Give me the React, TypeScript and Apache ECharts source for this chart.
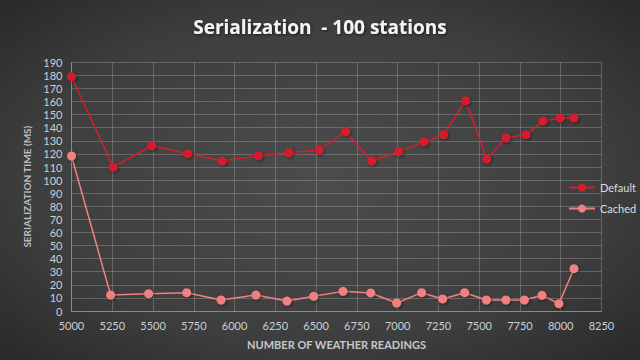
import React, { useEffect, useRef } from "react";
import * as echarts from "echarts";

const titleText = "Serialization  - 100 stations";
const xAxisName = "NUMBER OF WEATHER READINGS";
const yAxisName = "SERIALIZATION TIME (MS)";
const seriesNames = ["Default", "Cached"];

const defaultX = [5000, 5256, 5492, 5713, 5925, 6145, 6332, 6518, 6681, 6841, 7006, 7162, 7282, 7417, 7546, 7664, 7787, 7891, 7996, 8081];
const defaultY = [179.0, 110.0, 126.3, 120.2, 114.6, 118.6, 120.9, 123.0, 137.0, 114.6, 121.7, 129.3, 134.7, 160.7, 116.1, 132.2, 134.7, 145.1, 147.4, 147.6];

const cachedX = [5000, 5240, 5473, 5706, 5917, 6131, 6321, 6485, 6665, 6835, 6994, 7147, 7276, 7411, 7544, 7664, 7777, 7885, 7989, 8081];
const cachedY = [118.4, 12.2, 13.2, 14.0, 8.4, 12.2, 7.6, 11.2, 15.0, 13.8, 6.1, 14.0, 9.2, 14.0, 8.4, 8.4, 8.4, 12.0, 5.6, 32.3];

const colors = ["#d41f2d", "#f28080"];

export default function App() {
  const ref = useRef<HTMLDivElement>(null);
  useEffect(() => {
    document.body.style.margin = "0";
    const chart = echarts.init(ref.current!, null, { renderer: "svg" });
    const font = "Lato, 'Open Sans', sans-serif";
    const mk = (xs: number[], ys: number[]) => xs.map((x, i) => [x, ys[i]]);
    chart.setOption({
      animation: false,
      backgroundColor: new echarts.graphic.RadialGradient(0.5, 0.5, 0.75, [
        { offset: 0, color: "#4c4c4c" },
        { offset: 0.6, color: "#3e3e3e" },
        { offset: 1, color: "#252525" },
      ]),
      title: {
        text: titleText,
        left: "center",
        top: 12,
        textStyle: {
          color: "#f4f4f4",
          fontFamily: "'Open Sans', sans-serif",
          fontWeight: "bold",
          fontSize: 19,
          textShadowColor: "rgba(0,0,0,0.6)",
          textShadowBlur: 3,
          textShadowOffsetX: 1,
          textShadowOffsetY: 1,
        },
      },
      legend: {
        orient: "vertical",
        left: 563,
        top: 177,
        itemGap: 10,
        itemWidth: 26,
        itemHeight: 10,
        textStyle: { color: "#d8dde4", fontFamily: font, fontSize: 11 },
        data: seriesNames,
      },
      grid: { left: 71.5, right: 38.5, top: 62.3, bottom: 49, containLabel: false },
      xAxis: {
        type: "value",
        min: 5000,
        max: 8250,
        interval: 250,
        name: xAxisName,
        nameLocation: "middle",
        nameGap: 28,
        nameTextStyle: { color: "#c4c8cc", fontFamily: font, fontWeight: "bold", fontSize: 11 },
        axisLine: { show: true, lineStyle: { color: "#8a8a8a", width: 1 } },
        axisTick: { show: false },
        splitLine: { show: true, lineStyle: { color: "rgba(150,150,150,0.45)", width: 1 } },
        axisLabel: { color: "#c8d0d8", fontFamily: font, fontSize: 11, margin: 9, formatter: (v: number) => String(v) },
      },
      yAxis: {
        type: "value",
        min: 0,
        max: 190,
        interval: 10,
        name: yAxisName,
        nameLocation: "middle",
        nameGap: 33,
        nameTextStyle: { color: "#b8bcc0", fontFamily: font, fontWeight: "bold", fontSize: 10 },
        axisLine: { show: true, lineStyle: { color: "#8a8a8a", width: 1 } },
        axisTick: { show: false },
        splitLine: { show: true, lineStyle: { color: "rgba(150,150,150,0.45)", width: 1 } },
        axisLabel: { color: "#c8d0d8", fontFamily: font, fontSize: 11, margin: 9 },
      },
      series: [
        {
          name: seriesNames[0],
          type: "line",
          data: mk(defaultX, defaultY),
          symbol: "circle",
          symbolSize: 9,
          color: colors[0],
          lineStyle: { color: colors[0], width: 1.5 },
          itemStyle: { color: colors[0], shadowColor: "rgba(0,0,0,0.5)", shadowBlur: 3, shadowOffsetX: 1, shadowOffsetY: 1 },
        },
        {
          name: seriesNames[1],
          type: "line",
          data: mk(cachedX, cachedY),
          symbol: "circle",
          symbolSize: 9,
          color: colors[1],
          lineStyle: { color: colors[1], width: 1.5 },
          itemStyle: { color: colors[1], shadowColor: "rgba(0,0,0,0.5)", shadowBlur: 3, shadowOffsetX: 1, shadowOffsetY: 1 },
        },
      ],
    });
    return () => chart.dispose();
  }, []);
  return <div ref={ref} style={{ width: 640, height: 360 }} />;
}
